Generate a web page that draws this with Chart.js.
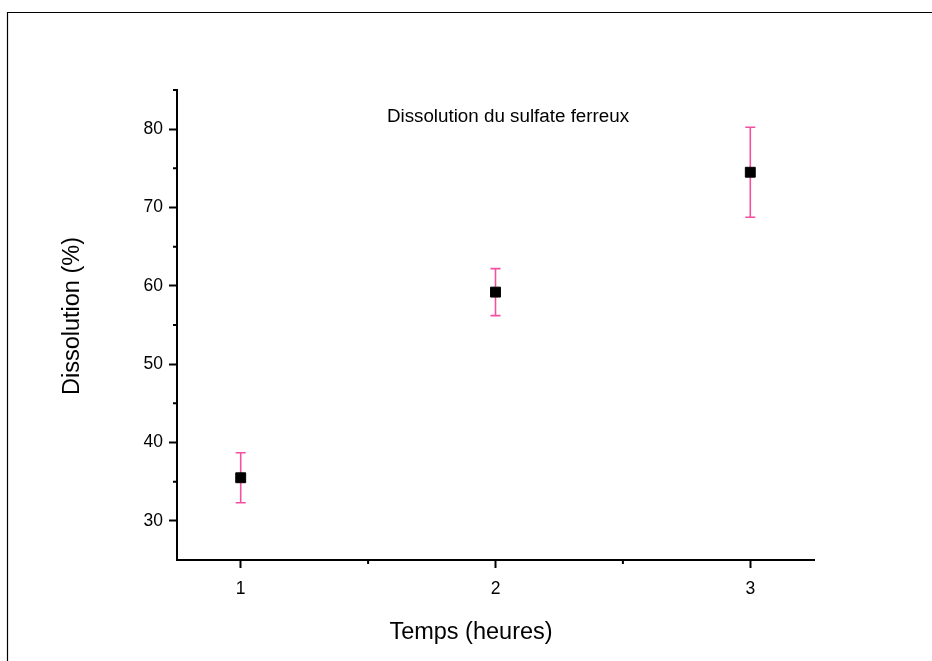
<!DOCTYPE html>
<html>
<head>
<meta charset="utf-8">
<script src="https://cdn.jsdelivr.net/npm/chart.js@4"></script>
<style>
html,body{margin:0;padding:0;background:#fff;}
</style>
</head>
<body>
<canvas id="chart" width="932" height="661"></canvas>
<script>
'use strict';

// data
let times=[1,2,3];
let dissolution=[35.5,59.2,74.5];
let errors=[3.2,3.0,5.75];
let xTicks=[1,2,3];
let xMinor=[1.5,2.5];
let yTicks=[30,40,50,60,70,80];
let yMinor=[35,45,55,65,75,85];
let chartTitle='Dissolution du sulfate ferreux';
let xTitle='Temps (heures)';
let yTitle='Dissolution (%)';

let canvasElem=document.getElementById('chart');
let fontFam='"Liberation Sans", Arial, sans-serif';

let extras={
    id:'extras',
    beforeDatasetsDraw(chart){
        let ctx=chart.ctx;
        let xs=chart.scales.x, ys=chart.scales.y;
        ctx.save();
        ctx.strokeStyle='#f5509f';
        ctx.lineWidth=1.6;
        for(let i=0;i<times.length;i++){
            let x=xs.getPixelForValue(times[i]);
            let top=ys.getPixelForValue(dissolution[i]+errors[i]);
            let bot=ys.getPixelForValue(dissolution[i]-errors[i]);
            ctx.beginPath();
            ctx.moveTo(x,top);ctx.lineTo(x,bot);
            ctx.moveTo(x-5,top);ctx.lineTo(x+5,top);
            ctx.moveTo(x-5,bot);ctx.lineTo(x+5,bot);
            ctx.stroke();
        }
        ctx.restore();
    },
    afterDraw(chart){
        let ctx=chart.ctx;
        let xs=chart.scales.x, ys=chart.scales.y;
        let area=chart.chartArea;
        ctx.save();
        // outer frame
        ctx.strokeStyle='#000';
        ctx.lineWidth=1.2;
        ctx.beginPath();
        ctx.moveTo(7.5,661);ctx.lineTo(7.5,12.5);ctx.lineTo(932,12.5);
        ctx.stroke();
        // minor ticks
        ctx.lineWidth=2;
        ctx.beginPath();
        for(let v of yMinor){
            let y=ys.getPixelForValue(v);
            ctx.moveTo(area.left-4,y);ctx.lineTo(area.left,y);
        }
        for(let v of xMinor){
            let x=xs.getPixelForValue(v);
            ctx.moveTo(x,area.bottom);ctx.lineTo(x,area.bottom+4);
        }
        ctx.stroke();
        // texts
        ctx.fillStyle='#000';
        ctx.textAlign='center';
        ctx.textBaseline='middle';
        ctx.font='18.8px '+fontFam;
        ctx.fillText(chartTitle,508,117);
        ctx.font='23.5px '+fontFam;
        ctx.fillText(xTitle,471,633);
        ctx.translate(73,316);
        ctx.rotate(-Math.PI/2);
        ctx.fillText(yTitle,0,0);
        ctx.restore();
    }
};

function renderChart(){
    let points=[];
    for(let i=0;i<times.length;i++){
        points.push({x:times[i],y:dissolution[i]});
    }
    let chartObj={
        type:'scatter',
        data:{
            datasets:[{
                data:points,
                pointStyle:'rect',
                pointRadius:7,
                pointBackgroundColor:'#000',
                pointBorderColor:'#000',
                pointBorderWidth:1,
                clip:false
            }]
        },
        options:{
            responsive:false,
            animation:false,
            layout:{padding:{left:0,top:90,right:118,bottom:0}},
            plugins:{legend:{display:false},tooltip:{enabled:false}},
            scales:{
                x:{
                    type:'linear',
                    min:0.75,
                    max:3.25,
                    afterBuildTicks(s){s.ticks=xTicks.map(v=>({value:v}));},
                    afterFit(s){s.height=101;},
                    grid:{drawOnChartArea:false,drawTicks:true,tickLength:8,tickWidth:2,tickColor:'#000'},
                    border:{display:true,color:'#000',width:2},
                    ticks:{color:'#000',font:{family:fontFam,size:17.5},padding:11}
                },
                y:{
                    min:25,
                    max:85,
                    afterBuildTicks(s){s.ticks=yTicks.map(v=>({value:v}));},
                    afterFit(s){s.width=177;},
                    grid:{drawOnChartArea:false,drawTicks:true,tickLength:8,tickWidth:2,tickColor:'#000'},
                    border:{display:true,color:'#000',width:2},
                    ticks:{color:'#000',font:{family:fontFam,size:17.5},padding:6}
                }
            }
        },
        plugins:[extras]
    };
    new Chart(canvasElem,chartObj);
}

renderChart();
</script>
</body>
</html>
